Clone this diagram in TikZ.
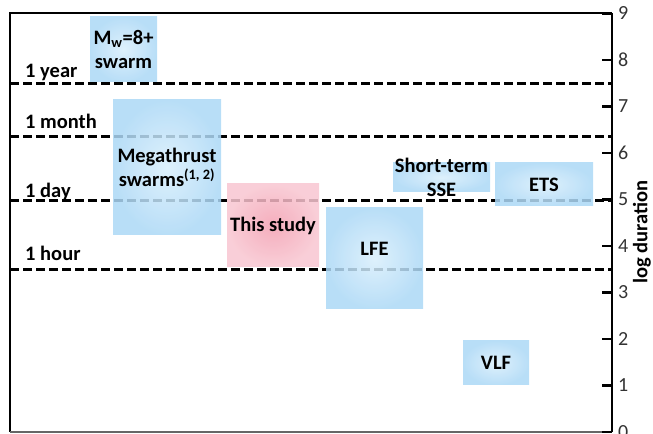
\documentclass[tikz,border=0pt]{standalone}
\usepackage{fontspec}
\setmainfont{Carlito}
\usepackage{tikz}
\usetikzlibrary{positioning, calc}

\definecolor{evtblue}{HTML}{ACD8F6}
\definecolor{evtlight}{HTML}{D8EEFB}
\definecolor{ourpink}{HTML}{F39FB1}
\definecolor{ourlight}{HTML}{F8C6D1}

\tikzset{
    evtbox/.style={inner sep=0pt, opacity=0.85, shading=radial,
        inner color=evtlight, outer color=evtblue},
    ourbox/.style={inner sep=0pt, opacity=0.85, shading=radial,
        inner color=ourpink, outer color=ourlight},
    durline/.style={black, line width=3pt, dash pattern=on 9pt off 4pt},
    lbl/.style={font=\fontsize{20.5}{24}\selectfont\bfseries, align=center, inner sep=0pt},
    ticklbl/.style={font=\fontsize{20}{24}\selectfont, text=black!80, anchor=west, inner sep=0pt}
}

\begin{document}
\begin{tikzpicture}[x=1pt, y=46.5pt]
    \def\xleft{10}
    \def\xright{612}
    \def\ymax{9}

    \useasboundingbox (0,-0.043) rectangle (653,9.29);

    % duration lines
    \foreach \name/\val/\txt/\up in {
        year/7.5/1 year/0.13,
        month/6.36/1 month/0.17,
        day/4.97/1 day/0.08,
        hour/3.5/1 hour/0.19}{
        \coordinate (\name w) at (\xleft,\val);
        \coordinate (\name e) at (\xright,\val);
        \draw[durline] (\name w) -- (\name e);
        \node[lbl, anchor=base west] (lbl\name) at (\xleft+15,\val+\up) {\txt};
    }

    % event boxes
    \foreach \name/\cx/\cy/\w/\h in {
        mw/123.5/8.226/67/65,
        mega/167/5.688/108/135,
        lfe/374.5/3.731/97/101,
        sse/441.5/5.473/97/29,
        ets/544/5.323/98/43,
        vlf/496/1.484/66/44}{
        \node[evtbox, minimum width=\w pt, minimum height=\h pt] (\name) at (\cx,\cy) {};
    }
    \node[ourbox, minimum width=92pt, minimum height=83pt] (study) at (273,4.441) {};

    % border
    \draw[black, line width=2pt] (\xleft,0) -- (\xleft,\ymax) -- (\xright,\ymax);
    \draw[black!60, line width=1.5pt] (\xleft,0) -- (\xright,0);
    \draw[black, line width=2.2pt] (\xright,0) -- (\xright,\ymax);

    % ticks
    \foreach \y in {0,...,9}
    {
        \draw[black, line width=2.2pt] (\xright-10,\y) -- (\xright,\y);
        \node[ticklbl] (tick\y) at (\xright+6,\y) {\y};
    }
    \node[lbl, rotate=90] (axlbl) at (642,4.3) {log duration};

    % box labels
    \node[lbl] (mwtxt) at (mw) {M\textsubscript{w}=8+\\swarm};
    \node[lbl] (megatxt) at (mega) {Megathrust\\swarms\textsuperscript{(1, 2)}};
    \node[lbl] (studytxt) at (study) {This study};
    \node[lbl, yshift=10pt] (lfetxt) at (lfe) {LFE};
    \node[lbl] (ssetxt) at (sse) {Short-term\\SSE};
    \node[lbl] (etstxt) at (ets) {ETS};
    \node[lbl] (vlftxt) at (vlf) {VLF};
\end{tikzpicture}
\end{document}
